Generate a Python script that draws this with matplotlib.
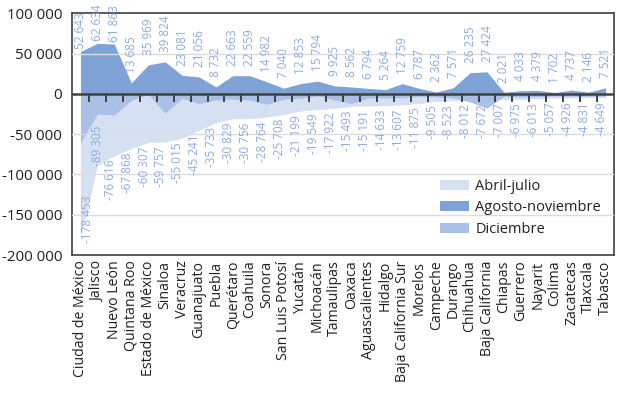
import matplotlib
matplotlib.use("Agg")
import matplotlib.pyplot as plt
import numpy as np
from matplotlib.ticker import FuncFormatter, FixedLocator
from matplotlib.patches import Patch
from matplotlib.markers import TICKDOWN

estados = ["Ciudad de México", "Jalisco", "Nuevo León", "Quintana Roo", "Estado de México",
           "Sinaloa", "Veracruz", "Guanajuato", "Puebla", "Querétaro", "Coahuila", "Sonora",
           "San Luis Potosí", "Yucatán", "Michoacán", "Tamaulipas", "Oaxaca", "Aguascalientes",
           "Hidalgo", "Baja California Sur", "Morelos", "Campeche", "Durango", "Chihuahua",
           "Baja California", "Chiapas", "Guerrero", "Nayarit", "Colima", "Zacatecas",
           "Tlaxcala", "Tabasco"]

abril_julio = [-178453, -89305, -76616, -67868, -60307, -59757, -55015, -45241, -35733,
               -30829, -30756, -28764, -25708, -21199, -19549, -17922, -15493, -15191,
               -14633, -13607, -11875, -9505, -8523, -8012, -7672, -7007, -6975, -6013,
               -5057, -4926, -4831, -4649]

agosto_noviembre = [52643, 62634, 61863, 13685, 35969, 39824, 23081, 21056, 8732, 22663,
                    22559, 14982, 7040, 12853, 15794, 9925, 8562, 6794, 5264, 12759, 6787,
                    2362, 7571, 26235, 27424, 2021, 4033, 4379, 1702, 4737, 2146, 7521]

diciembre = [-61000, -25000, -26000, -8000, -500, -24000, -5500, -12000, -7500, -6500,
             -7500, -13000, -6500, -5500, -2500, -7500, -12000, -5000, -5000, -5000,
             -3000, -4000, -5000, -10000, -17600, -3000, -4000, -3500, -2500, -3000,
             -3000, -2500]

serie_nombres = ["Abril-julio", "Agosto-noviembre", "Diciembre"]
colores = ["#d5e0f3", "#7fa3d7", "#aac0e7"]
color_etiqueta = "#8eacdf"
color_texto = "#231f20"

plt.rcParams['font.family'] = ['Open Sans', 'DejaVu Sans']

fig = plt.figure(figsize=(6.19, 3.95), dpi=100)
ax = fig.add_axes([0.1163, 0.3544, 0.992 - 0.1163, 0.9663 - 0.3544])

x = np.arange(len(estados))
ax.fill_between(x, 0, abril_julio, color=colores[0], lw=0, zorder=1)
ax.fill_between(x, 0, agosto_noviembre, color=colores[1], lw=0, zorder=2)
ax.fill_between(x, 0, diciembre, color=colores[2], lw=0, zorder=3)

ax.set_xlim(-0.5, len(estados) - 0.5)
ax.set_ylim(-200000, 100000)

ax.yaxis.set_major_locator(FixedLocator(np.arange(-200000, 100001, 50000)))
ax.yaxis.set_major_formatter(FuncFormatter(lambda v, p: f"{int(v):,}".replace(",", " ")))
for yv in [50000, -50000, -100000, -150000]:
    ax.axhline(yv, color="#dcdcdc", lw=1.0, zorder=4)

ax.set_xticks(x)
ax.set_xticklabels(estados, rotation=90, ha="center", va="top")
ax.tick_params(axis="x", length=0, pad=4, labelsize=10.2, labelcolor=color_texto)
ax.tick_params(axis="y", length=0, pad=7, labelsize=10.8, labelcolor=color_texto)

for s in ax.spines.values():
    s.set_color("#404040")
    s.set_linewidth(1.2)

# zero axis with tick marks between categories
ax.axhline(0, color="#404040", lw=1.8, zorder=6)
limites = np.arange(0.5, len(estados) - 1, 1.0)
ax.plot(limites, np.zeros_like(limites), ls="none", marker=TICKDOWN, ms=5.5, mew=1.4,
        color="#404040", zorder=6)

def fmt(v):
    return f"{v:,}".replace(",", " ")

for xi, v in zip(x, agosto_noviembre):
    off = 1.5 if v > 45000 else 7
    ax.annotate(fmt(v), (xi, v), xytext=(0, off), textcoords="offset points",
                rotation=90, ha="center", va="bottom", fontsize=8.5,
                color=color_etiqueta, zorder=7, annotation_clip=False)

for xi, v in zip(x, abril_julio):
    if v < -150000:
        ax.annotate(fmt(v), (xi, v), xytext=(5, -4), textcoords="offset points",
                    rotation=90, ha="center", va="bottom", fontsize=8.5,
                    color=color_etiqueta, zorder=7)
    elif v < -80000:
        ax.annotate(fmt(v), (xi, v), xytext=(0, 0), textcoords="offset points",
                    rotation=90, ha="center", va="bottom", fontsize=8.5,
                    color=color_etiqueta, zorder=7)
    else:
        ax.annotate(fmt(v), (xi, v), xytext=(-3, -3), textcoords="offset points",
                    rotation=90, ha="center", va="top", fontsize=8.5,
                    color=color_etiqueta, zorder=7)

handles = [Patch(facecolor=c, edgecolor="none") for c in colores]
leg = ax.legend(handles, serie_nombres, loc="lower right", bbox_to_anchor=(1.0, 0.02),
                frameon=False, fontsize=10.5, handlelength=2.0, handleheight=0.7,
                handletextpad=0.4, labelspacing=0.45)
for t in leg.get_texts():
    t.set_color(color_texto)
leg.set_zorder(8)

fig.savefig("out.png", dpi=100)
